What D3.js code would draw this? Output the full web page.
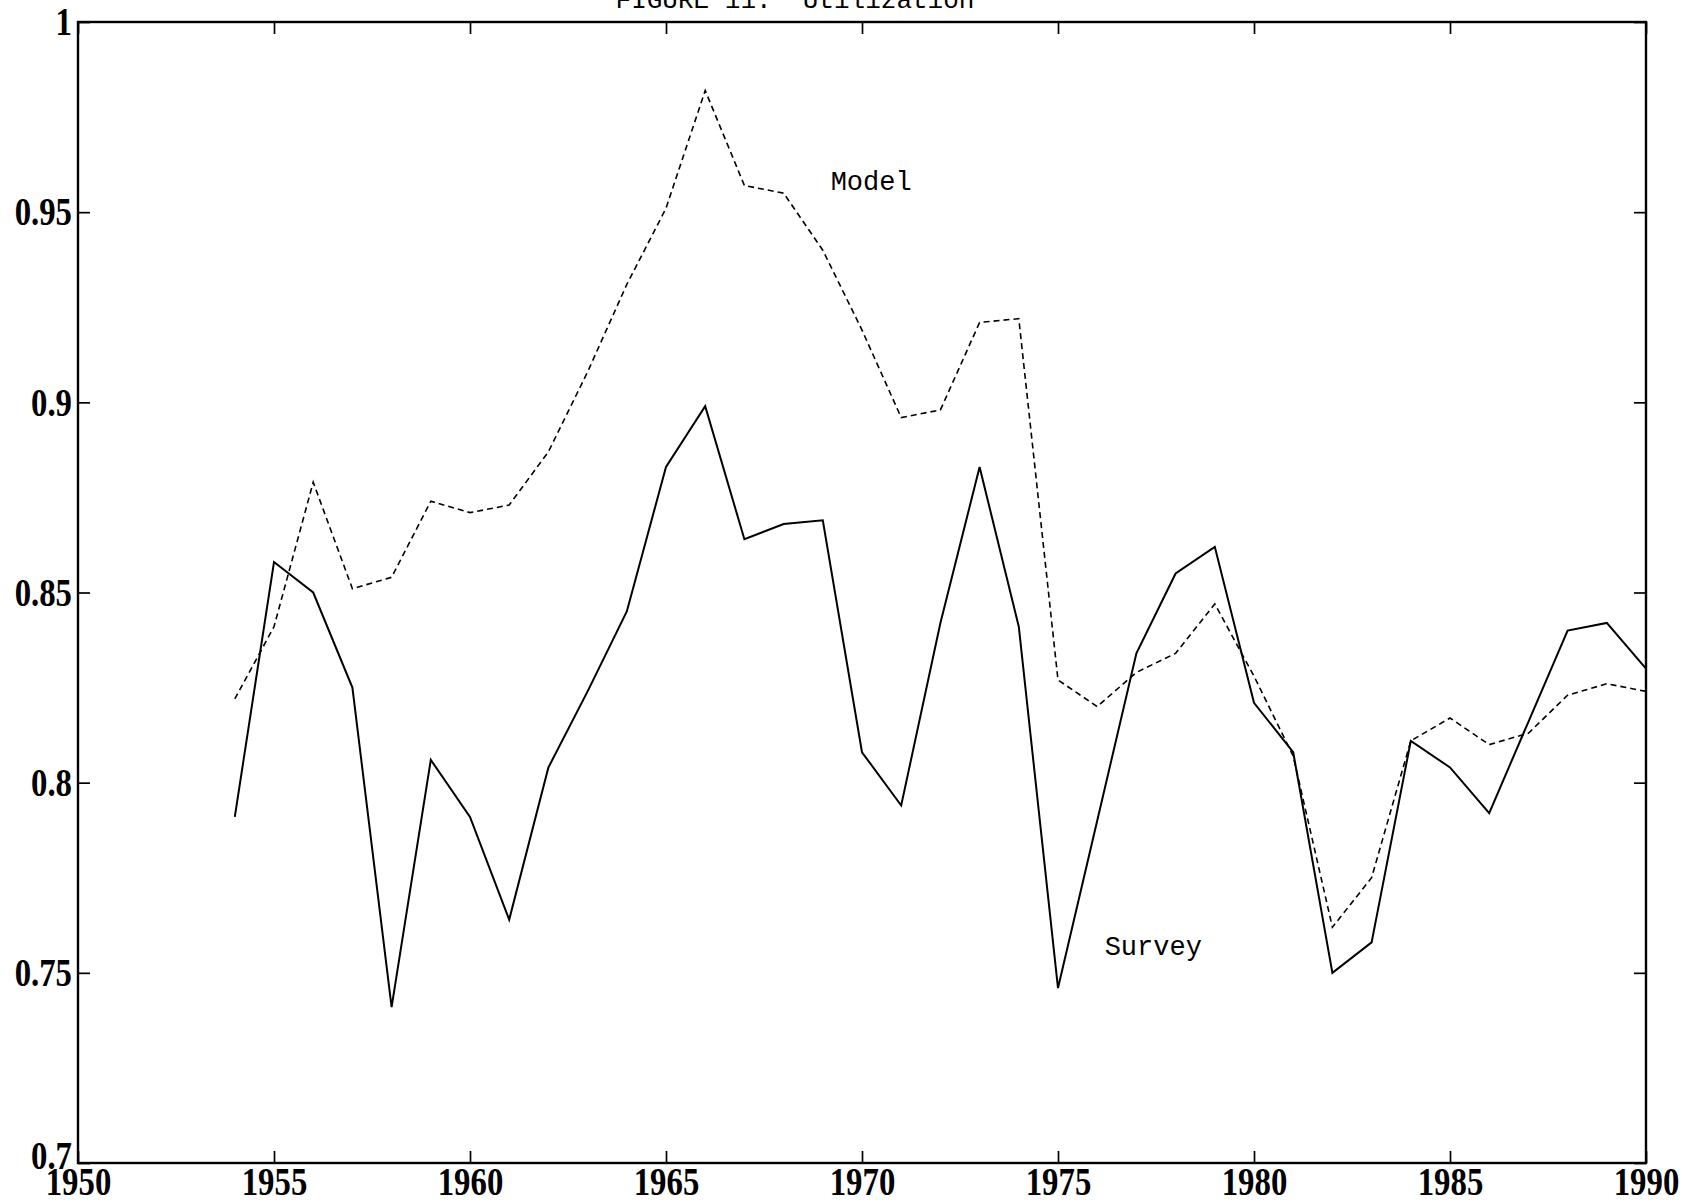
<!DOCTYPE html>
<html>
<head>
<meta charset="utf-8">
<script src="https://cdn.jsdelivr.net/npm/d3@7"></script>
<style>
  html, body { margin: 0; padding: 0; background: #fff; }
  svg { display: block; }
</style>
</head>
<body>
<svg id="chart" width="1682" height="1203"></svg>
<script>
// ---- data ----
const years = [1954,1955,1956,1957,1958,1959,1960,1961,1962,1963,1964,1965,1966,1967,1968,1969,1970,1971,1972,1973,1974,1975,1976,1977,1978,1979,1980,1981,1982,1983,1984,1985,1986,1987,1988,1989,1990];
const survey = [0.791,0.858,0.850,0.825,0.741,0.806,0.791,0.764,0.804,0.824,0.845,0.883,0.899,0.864,0.868,0.869,0.808,0.794,0.842,0.883,0.841,0.746,0.790,0.834,0.855,0.862,0.821,0.808,0.750,0.758,0.811,0.804,0.792,0.816,0.840,0.842,0.830];
const model = [0.822,0.841,0.879,0.851,0.854,0.874,0.871,0.873,0.887,0.908,0.931,0.951,0.982,0.957,0.955,0.940,0.919,0.896,0.898,0.921,0.922,0.827,0.820,0.829,0.834,0.847,0.828,0.807,0.762,0.775,0.811,0.817,0.810,0.813,0.823,0.826,0.824];
const xTicks = [1950,1955,1960,1965,1970,1975,1980,1985,1990];
const yTicks = [0.7,0.75,0.8,0.85,0.9,0.95,1];
const yTickLabels = ["0.7","0.75","0.8","0.85","0.9","0.95","1"];
const title = "FIGURE 11.  Utilization";
const labels = [{text:"Model", year:1969.2, value:0.9558}, {text:"Survey", year:1976.19, value:0.7547}];

// ---- layout ----
const L = 78, R = 1646, T = 22, B = 1163;
const svg = d3.select("#chart");
const x = d3.scaleLinear().domain([1950,1990]).range([L,R]);
const y = d3.scaleLinear().domain([0.7,1]).range([B,T]);

const tickLen = 12;
const sx = 0.82;
const serif = "'Liberation Serif', 'Times New Roman', serif";
const mono = "'Liberation Mono', 'Courier New', monospace";

function styleAxis(g, showText) {
  g.select(".domain").remove();
  g.selectAll(".tick line").attr("stroke","#000").attr("stroke-width",1.7);
  g.selectAll(".tick text")
    .attr("fill","#000")
    .attr("transform",`scale(${sx},1)`)
    .style("font-family", serif)
    .style("font-weight","bold")
    .style("font-size","40px");
  if (!showText) g.selectAll(".tick text").remove();
}

// bottom
svg.append("g").attr("transform",`translate(0,${B})`)
  .call(d3.axisBottom(x).tickValues(xTicks).tickFormat(d3.format("d")).tickSizeInner(-tickLen).tickSizeOuter(0).tickPadding(4))
  .call(g => styleAxis(g,true));
// top
svg.append("g").attr("transform",`translate(0,${T})`)
  .call(d3.axisTop(x).tickValues(xTicks).tickSizeInner(-tickLen).tickSizeOuter(0))
  .call(g => styleAxis(g,false));
// left
svg.append("g").attr("transform",`translate(${L},0)`)
  .call(d3.axisLeft(y).tickValues(yTicks).tickFormat((d,i)=>yTickLabels[i]).tickSizeInner(-tickLen).tickSizeOuter(0).tickPadding(6))
  .call(g => styleAxis(g,true))
  .call(g => g.selectAll(".tick text").attr("x", -6 / sx))
  .call(g => g.selectAll(".tick text").filter(d => d === 0.7).attr("y", -7));
// right
svg.append("g").attr("transform",`translate(${R},0)`)
  .call(d3.axisRight(y).tickValues(yTicks).tickSizeInner(-tickLen).tickSizeOuter(0))
  .call(g => styleAxis(g,false));

// frame
svg.append("rect").attr("x",L).attr("y",T).attr("width",R-L).attr("height",B-T)
  .attr("fill","none").attr("stroke","#000").attr("stroke-width",2.4);

// lines
const line = d3.line().x((d,i)=>x(years[i])).y(d=>y(d));
svg.append("path").datum(survey).attr("d",line)
  .attr("fill","none").attr("stroke","#000").attr("stroke-width",2).attr("stroke-linejoin","miter");
svg.append("path").datum(model).attr("d",line)
  .attr("fill","none").attr("stroke","#000").attr("stroke-width",1.6).attr("stroke-dasharray","6,4");

// labels
svg.selectAll("text.lbl").data(labels).enter().append("text")
  .attr("class","lbl")
  .attr("x",d=>x(d.year)).attr("y",d=>y(d.value))
  .style("font-family",mono).style("font-size","27px").attr("fill","#000")
  .text(d=>d.text);

// title (partially cut by top edge, as in the scan)
svg.append("text").attr("x",795).attr("y",8)
  .attr("text-anchor","middle")
  .style("font-family",mono).style("font-size","26px").style("white-space","pre")
  .attr("fill","#000")
  .text(title);
</script>
</body>
</html>
